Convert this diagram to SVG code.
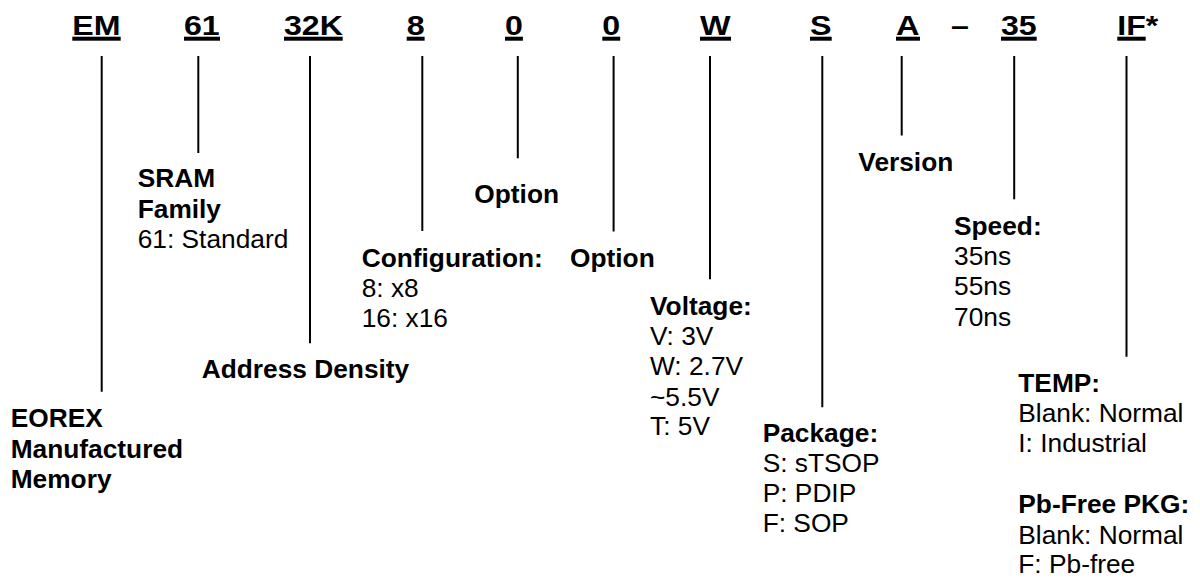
<svg xmlns="http://www.w3.org/2000/svg" width="1200" height="581" viewBox="0 0 1200 581">
<style>
.code{font-family:"Liberation Sans",Arial,sans-serif;font-weight:bold;font-size:27px;fill:#000}
.b{font-family:"Liberation Sans",Arial,sans-serif;font-weight:bold;font-size:26.3px;fill:#000}
.r{font-family:"Liberation Sans",Arial,sans-serif;font-weight:normal;font-size:26.3px;fill:#000}
.ul{fill:#000}
.conn line{stroke:#000;stroke-width:2}
</style>
<rect width="1200" height="581" fill="#fff"/>

<g id="code-EM"><text class="code" x="72.3" y="34.5" textLength="48.2" lengthAdjust="spacingAndGlyphs">EM</text><rect class="ul" x="72.3" y="36.7" width="48.4" height="4"/></g>
<g id="code-61"><text class="code" x="184" y="34.5" textLength="35.7" lengthAdjust="spacingAndGlyphs">61</text><rect class="ul" x="184" y="36.7" width="36" height="4"/></g>
<g id="code-32K"><text class="code" x="284" y="34.5" textLength="58.9" lengthAdjust="spacingAndGlyphs">32K</text><rect class="ul" x="284" y="36.7" width="58.7" height="4"/></g>
<g id="code-8"><text class="code" x="406.7" y="34.5" textLength="17.9" lengthAdjust="spacingAndGlyphs">8</text><rect class="ul" x="406.7" y="36.7" width="17.9" height="4"/></g>
<g id="code-0a"><text class="code" x="505" y="34.5" textLength="17.9" lengthAdjust="spacingAndGlyphs">0</text><rect class="ul" x="505" y="36.7" width="17.9" height="4"/></g>
<g id="code-0b"><text class="code" x="602.3" y="34.5" textLength="17.9" lengthAdjust="spacingAndGlyphs">0</text><rect class="ul" x="602.3" y="36.7" width="17.9" height="4"/></g>
<g id="code-W"><text class="code" x="700" y="34.5" textLength="30.5" lengthAdjust="spacingAndGlyphs">W</text><rect class="ul" x="700" y="36.7" width="31" height="4"/></g>
<g id="code-S"><text class="code" x="810" y="34.5" textLength="21.5" lengthAdjust="spacingAndGlyphs">S</text><rect class="ul" x="810" y="36.7" width="21.7" height="4"/></g>
<g id="code-A"><text class="code" x="896" y="34.5" textLength="23.5" lengthAdjust="spacingAndGlyphs">A</text><rect class="ul" x="896" y="36.7" width="24" height="4"/></g>
<g id="code-dash"><text class="code" x="951" y="34.5" textLength="17.9" lengthAdjust="spacingAndGlyphs">–</text></g>
<g id="code-35"><text class="code" x="1001" y="34.5" textLength="35.7" lengthAdjust="spacingAndGlyphs">35</text><rect class="ul" x="1001" y="36.7" width="35.7" height="4"/></g>
<g id="code-IF"><text class="code" x="1117.3" y="34.5" textLength="41" lengthAdjust="spacingAndGlyphs">IF*</text><rect class="ul" x="1117.3" y="36.7" width="28.4" height="4"/></g>

<g id="connectors" class="conn">
<line x1="101.7" y1="56" x2="101.7" y2="391.7"/>
<line x1="198.3" y1="56" x2="198.3" y2="153"/>
<line x1="310" y1="56" x2="310" y2="343.3"/>
<line x1="422.3" y1="56" x2="422.3" y2="231"/>
<line x1="517.8" y1="56" x2="517.8" y2="158.3"/>
<line x1="613.6" y1="56" x2="613.6" y2="231.5"/>
<line x1="710" y1="56" x2="710" y2="279.3"/>
<line x1="822.3" y1="56" x2="822.3" y2="407.3"/>
<line x1="901.7" y1="56" x2="901.7" y2="135.5"/>
<line x1="1014.2" y1="56" x2="1014.2" y2="199.3"/>
<line x1="1126.5" y1="56" x2="1126.5" y2="356.7"/>
</g>

<g id="desc-EM"><text class="b" x="10.7" y="426.7">EOREX</text><text class="b" x="10.7" y="457.7">Manufactured</text><text class="b" x="10.7" y="488.3">Memory</text></g>
<g id="desc-61"><text class="b" x="137.7" y="186.7">SRAM</text><text class="b" x="137.7" y="218.3">Family</text><text class="r" x="137.7" y="247.7">61: Standard</text></g>
<g id="desc-32K"><text class="b" x="201.7" y="378">Address Density</text></g>
<g id="desc-8"><text class="b" x="361.7" y="267">Configuration:</text><text class="r" x="361.7" y="297">8: x8</text><text class="r" x="361.7" y="327">16: x16</text></g>
<g id="desc-0a"><text class="b" x="474.3" y="203.3">Option</text></g>
<g id="desc-0b"><text class="b" x="570" y="267">Option</text></g>
<g id="desc-W"><text class="b" x="650" y="315">Voltage:</text><text class="r" x="650" y="345">V: 3V</text><text class="r" x="650" y="375">W: 2.7V</text><text class="r" x="650" y="405.5">~5.5V</text><text class="r" x="650" y="435">T: 5V</text></g>
<g id="desc-S"><text class="b" x="762.7" y="441.7">Package:</text><text class="r" x="762.7" y="472.3">S: sTSOP</text><text class="r" x="762.7" y="502.3">P: PDIP</text><text class="r" x="762.7" y="532.3">F: SOP</text></g>
<g id="desc-A"><text class="b" x="858.3" y="170.7">Version</text></g>
<g id="desc-35"><text class="b" x="954" y="235">Speed:</text><text class="r" x="954" y="265">35ns</text><text class="r" x="954" y="295">55ns</text><text class="r" x="954" y="325.5">70ns</text></g>
<g id="desc-IF"><text class="b" x="1018.3" y="391.7">TEMP:</text><text class="r" x="1018.3" y="421.7">Blank: Normal</text><text class="r" x="1018.3" y="452">I: Industrial</text><text class="b" x="1018.3" y="513.3">Pb-Free PKG:</text><text class="r" x="1018.3" y="544">Blank: Normal</text><text class="r" x="1018.3" y="573.3">F: Pb-free</text></g>
</svg>
